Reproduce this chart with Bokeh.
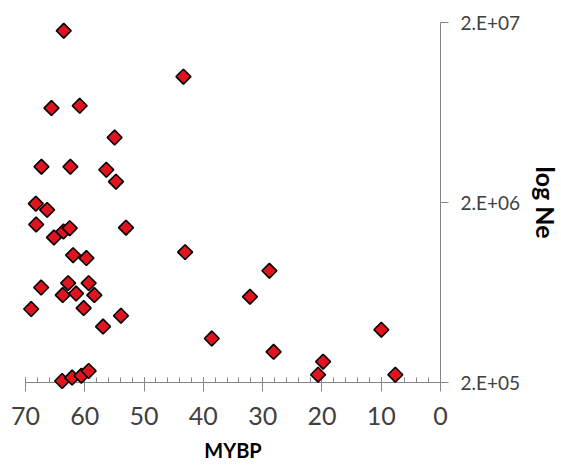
import math
from bokeh.plotting import figure
from bokeh.models import Range1d, FixedTicker
from bokeh.embed import file_html
from bokeh.resources import INLINE

# Data (million years before present, effective population size)
mybp = [63.55, 43.36, 65.62, 60.86, 54.97, 67.31, 62.43, 56.37, 54.74, 68.26,
        66.35, 68.20, 65.20, 63.60, 62.54, 53.05, 43.08, 61.97, 59.73, 28.86,
        67.36, 62.81, 59.35, 63.72, 61.47, 58.39, 32.14, 69.04, 60.19, 53.90,
        56.92, 38.58, 28.15, 63.82, 62.14, 60.58, 59.35, 19.80, 20.65, 9.98, 7.62]
ne = [1.80e7, 1.00e7, 6.69e6, 6.89e6, 4.59e6, 3.16e6, 3.16e6, 3.04e6, 2.61e6, 1.97e6,
      1.82e6, 1.51e6, 1.28e6, 1.38e6, 1.44e6, 1.45e6, 1.06e6, 1.02e6, 9.82e5, 8.35e5,
      6.74e5, 7.13e5, 7.13e5, 6.12e5, 6.24e5, 6.12e5, 5.99e5, 5.12e5, 5.18e5, 4.70e5,
      4.09e5, 3.51e5, 2.96e5, 2.04e5, 2.13e5, 2.18e5, 2.32e5, 2.61e5, 2.21e5, 3.93e5, 2.21e5]

x_ticks = [70, 60, 50, 40, 30, 20, 10, 0]
x_tick_labels = ["70", "60", "50", "40", "30", "20", "10", "0"]
x_minor_ticks = list(range(0, 71, 2))
y_ticks = [2e5, 2e6, 2e7]
y_tick_labels = ["2.E+05", "2.E+06", "2.E+07"]

FONT = "Lato"
AXIS_COLOR = "#868686"
LABEL_COLOR = "#404040"

p = figure(frame_width=415, frame_height=360,
           x_range=Range1d(70, 0), y_range=Range1d(2e5, 2e7),
           y_axis_type="log", y_axis_location="right",
           x_axis_label="MYBP", y_axis_label="log Ne",
           output_backend="svg", toolbar_location=None,
           min_border_left=25, min_border_top=22,
           min_border_right=0, min_border_bottom=0)

p.outline_line_color = None
p.xgrid.visible = False
p.ygrid.visible = False
p.background_fill_color = "white"

xa = p.xaxis[0]
xa.ticker = FixedTicker(ticks=x_ticks, minor_ticks=x_minor_ticks)
xa.major_label_overrides = {t: l for t, l in zip(x_ticks, x_tick_labels)}
xa.axis_line_color = AXIS_COLOR
xa.major_tick_line_color = AXIS_COLOR
xa.minor_tick_line_color = AXIS_COLOR
xa.major_tick_in = 5
xa.major_tick_out = 9
xa.minor_tick_in = 5
xa.minor_tick_out = 0
xa.major_label_standoff = 15
xa.major_label_text_font = FONT
xa.major_label_text_font_size = "25px"
xa.major_label_text_color = LABEL_COLOR
xa.axis_label_text_font = FONT
xa.axis_label_text_font_size = "20px"
xa.axis_label_text_font_style = "bold"
xa.axis_label_text_color = "black"
xa.axis_label_standoff = 10

ya = p.yaxis[0]
ya.ticker = FixedTicker(ticks=y_ticks, minor_ticks=[])
ya.major_label_overrides = {t: l for t, l in zip(y_ticks, y_tick_labels)}
ya.axis_line_color = AXIS_COLOR
ya.major_tick_line_color = AXIS_COLOR
ya.minor_tick_line_color = None
ya.major_tick_in = 0
ya.major_tick_out = 8
ya.major_label_standoff = 12
ya.major_label_text_font = FONT
ya.major_label_text_font_size = "19px"
ya.major_label_text_color = LABEL_COLOR
ya.axis_label_text_font = FONT
ya.axis_label_text_font_size = "25px"
ya.axis_label_text_font_style = "bold"
ya.axis_label_text_color = "black"
ya.axis_label_standoff = 8

p.scatter(mybp, ne, marker="square", angle=math.pi / 4, size=10.5,
          fill_color="#E0141E", line_color="black", line_width=1.6,
          level="overlay")

open("out.html", "w").write(file_html(p, INLINE))
